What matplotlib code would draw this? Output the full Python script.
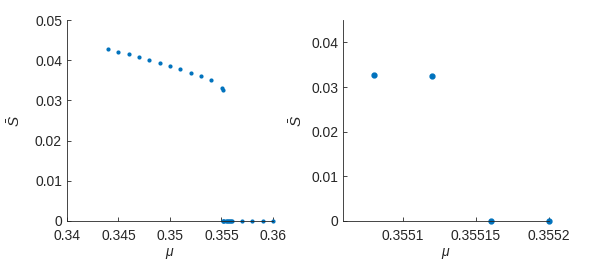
import matplotlib.pyplot as plt

# upper branch (nonzero S) and lower branch (S = 0)
mu_upper = [0.344, 0.345, 0.346, 0.347, 0.348, 0.349, 0.350, 0.351, 0.352, 0.353, 0.354, 0.35508, 0.35512]
s_upper = [0.0427, 0.0420, 0.0415, 0.0408, 0.0400, 0.0393, 0.0386, 0.0377, 0.0369, 0.0360, 0.0351, 0.0330, 0.0326]
mu_lower = [0.35516, 0.3552, 0.3553, 0.3554, 0.3555, 0.3556, 0.3557, 0.3558, 0.3559, 0.356, 0.357, 0.358, 0.359, 0.36]
s_lower = [0.0] * len(mu_lower)

# zoomed view near the transition
mu_zoom = [0.35508, 0.35512, 0.35516, 0.3552]
s_zoom = [0.0328, 0.0325, 0.0, 0.0]

plt.rcParams['font.family'] = ['Liberation Sans', 'DejaVu Sans']
plt.rcParams['mathtext.fontset'] = 'custom'
plt.rcParams['mathtext.it'] = 'Liberation Sans:italic'
plt.rcParams['mathtext.rm'] = 'Liberation Sans'

blue = '#0072BD'
grey = '#262626'

fig = plt.figure(figsize=(5.92, 2.62), dpi=100)
ax1 = fig.add_axes([0.113, 0.1565, 0.348, 0.767])
ax2 = fig.add_axes([0.58, 0.1565, 0.347, 0.767])


def style(ax, ylab_x):
    for side in ['top', 'right']:
        ax.spines[side].set_visible(False)
    for side in ['left', 'bottom']:
        ax.spines[side].set_color(grey)
        ax.spines[side].set_linewidth(0.6)
    ax.tick_params(direction='in', length=3, width=0.6, colors=grey, labelsize=10, labelcolor=grey)
    ax.tick_params(axis='x', pad=6)
    ax.set_xlabel(r'$\mu$', fontsize=10, color=grey, labelpad=2)
    ax.set_ylabel(r'$\bar{S}$', fontsize=11, color=grey, va='center')
    ax.yaxis.set_label_coords(ylab_x, 0.5)


ax1.plot(mu_upper, s_upper, '.', color=blue, markersize=4)
ax1.plot(mu_lower, s_lower, '.', color=blue, markersize=4, clip_on=False)
ax1.set_xlim(0.34, 0.36)
ax1.set_ylim(0, 0.05)
ax1.set_xticks([0.34, 0.345, 0.35, 0.355, 0.36])
ax1.set_xticklabels(['0.34', '0.345', '0.35', '0.355', '0.36'])
ax1.set_yticks([0, 0.01, 0.02, 0.03, 0.04, 0.05])
ax1.set_yticklabels(['0', '0.01', '0.02', '0.03', '0.04', '0.05'])
style(ax1, -0.252)

ax2.plot(mu_zoom, s_zoom, '.', color=blue, markersize=7, clip_on=False)
ax2.set_xlim(0.355059, 0.3552)
ax2.set_ylim(0, 0.045)
ax2.set_xticks([0.3551, 0.35515, 0.3552])
ax2.set_xticklabels(['0.3551', '0.35515', '0.3552'])
ax2.set_yticks([0, 0.01, 0.02, 0.03, 0.04])
ax2.set_yticklabels(['0', '0.01', '0.02', '0.03', '0.04'])
style(ax2, -0.23)

fig.savefig('out.png', dpi=100)
